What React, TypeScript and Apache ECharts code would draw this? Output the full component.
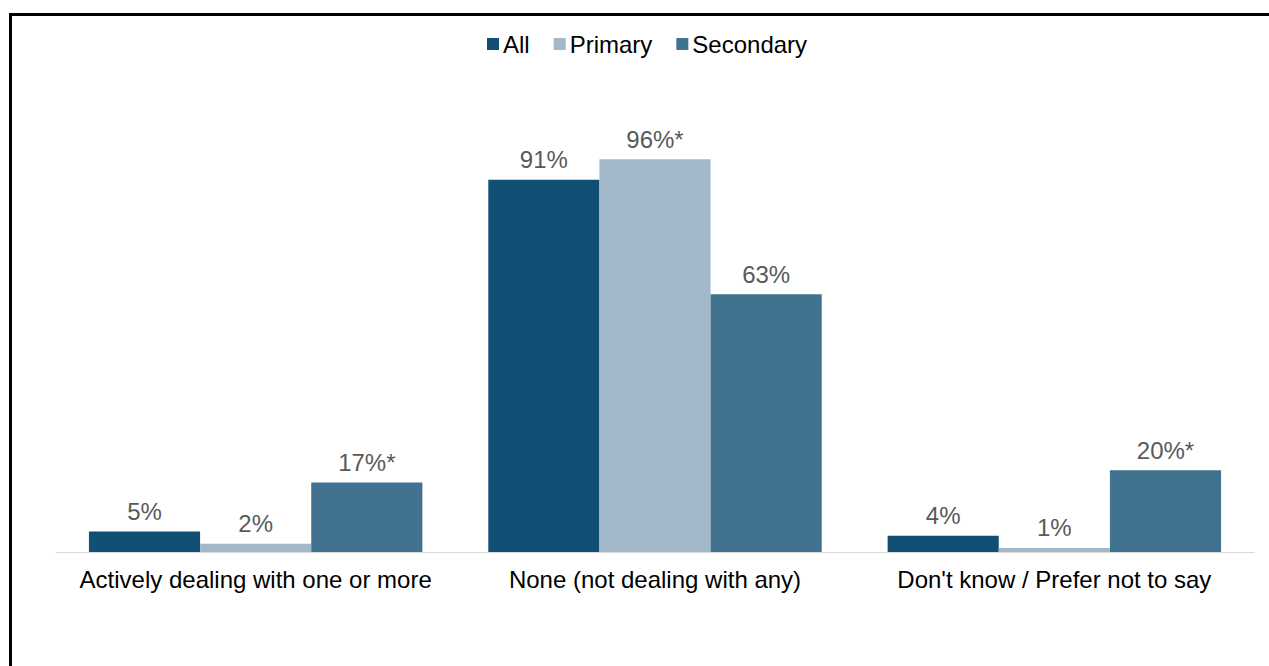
import React, { useEffect, useRef } from "react";
import * as echarts from "echarts";

const categories = [
  "Actively dealing with one or more",
  "None (not dealing with any)",
  "Don't know / Prefer not to say",
];
const seriesNames = ["All", "Primary", "Secondary"];
const allValues = [5, 91, 4];
const primaryValues = [2, 96, 1];
const secondaryValues = [17, 63, 20];
const allMarks = ["", "", ""];
const primaryMarks = ["", "*", ""];
const secondaryMarks = ["*", "", "*"];
const colors = ["#124f75", "#a3b8c8", "#41728f"];
const FONT = "Liberation Sans, Arial, sans-serif";

export default function App() {
  const ref = useRef<HTMLDivElement>(null);
  useEffect(() => {
    const chart = echarts.init(ref.current!, null, { renderer: "svg" });
    const values = [allValues, primaryValues, secondaryValues];
    const marks = [allMarks, primaryMarks, secondaryMarks];
    chart.setOption({
      animation: false,
      textStyle: { fontFamily: FONT },
      legend: {
        top: 27,
        left: 482,
        itemWidth: 12,
        itemHeight: 12,
        itemGap: 24,
        icon: "rect",
        textStyle: { fontSize: 24, color: "#000", fontFamily: FONT, padding: [0, 0, 0, -1] },
        data: seriesNames,
      },
      grid: { left: 56, right: 15, top: 143, bottom: 114 },
      xAxis: {
        type: "category",
        data: categories,
        axisTick: { show: false },
        axisLine: { lineStyle: { color: "#d9d9d9", width: 1 } },
        axisLabel: { fontSize: 24, color: "#000", margin: 15, interval: 0, hideOverlap: false, fontFamily: FONT },
      },
      yAxis: { type: "value", min: 0, max: 100, show: false, splitLine: { show: false } },
      graphic: [
        {
          type: "polyline",
          shape: { points: [[10.5, 700], [10.5, 14.5], [1300, 14.5]] },
          style: { stroke: "#000", lineWidth: 3, fill: "none" },
          silent: true,
        },
      ],
      series: seriesNames.map((name, i) => ({
        name,
        type: "bar",
        barGap: "0%",
        barCategoryGap: "16.5%",
        itemStyle: { color: colors[i] },
        label: {
          show: true,
          position: "top",
          distance: 8,
          fontSize: 24,
          color: "#595959",
          fontFamily: FONT,
          formatter: (p: any) => `${p.value}%${marks[i][p.dataIndex]}`,
        },
        data: values[i],
      })),
    });
    return () => chart.dispose();
  }, []);
  return (
    <div
      ref={ref}
      style={{ position: "absolute", left: 0, top: 0, width: 1269, height: 666, background: "#fff" }}
    />
  );
}
